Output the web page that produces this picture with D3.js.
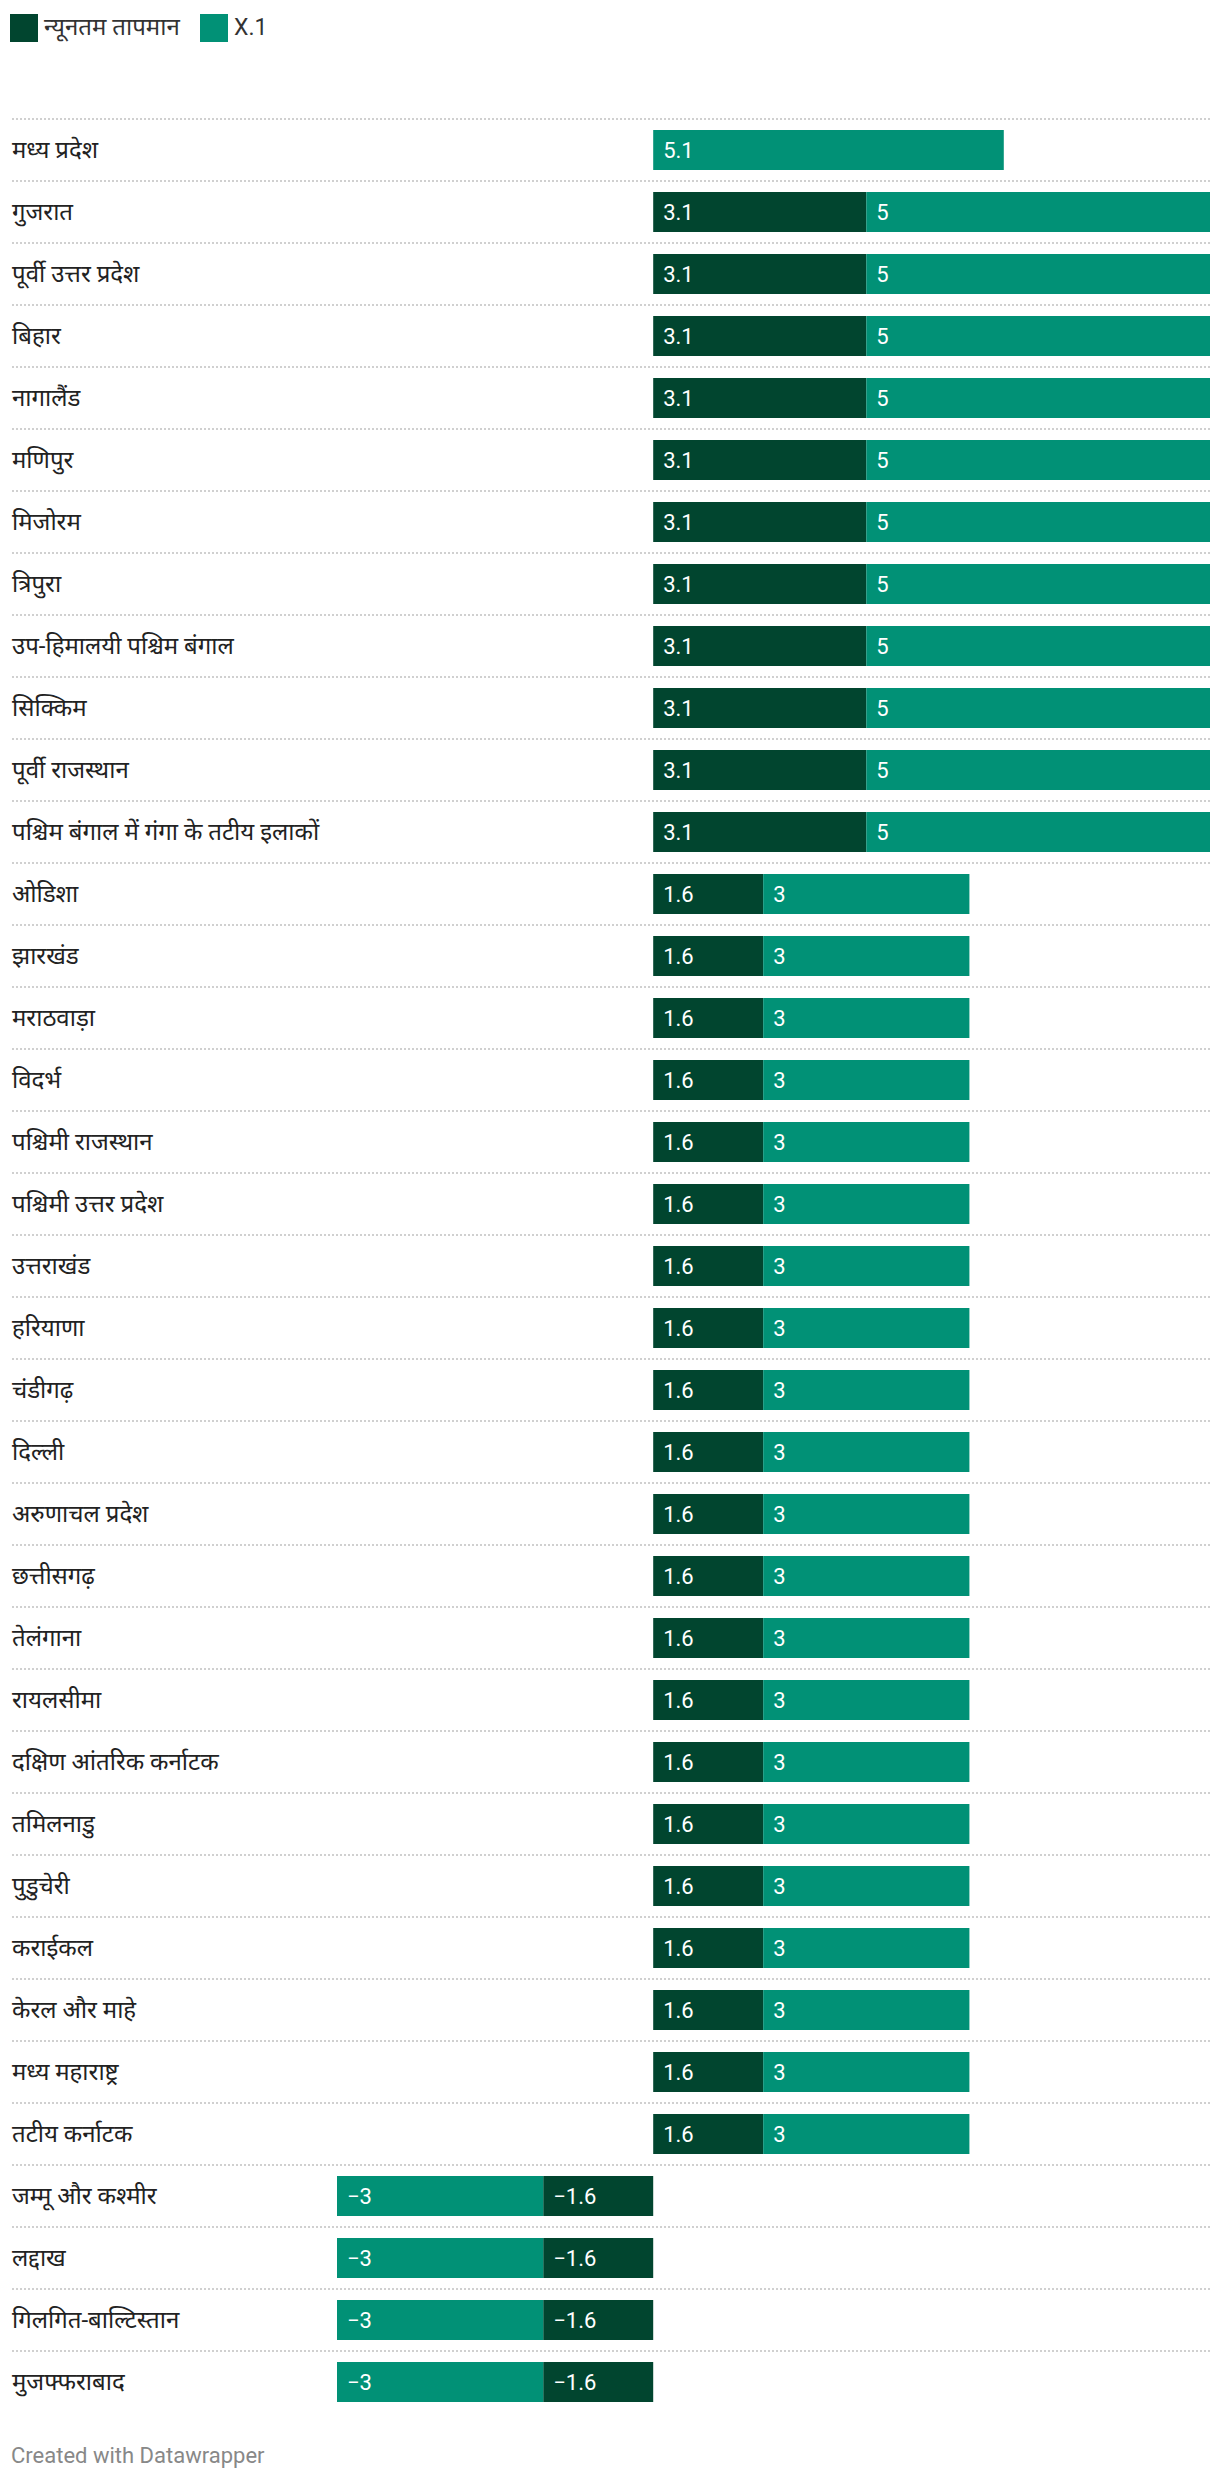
<!DOCTYPE html>
<html>
<head>
<meta charset="utf-8">
<script src="https://cdn.jsdelivr.net/npm/d3@7"></script>
<style>
  html, body { margin: 0; padding: 0; background: #fff; }
  svg text { font-family: Roboto, "Noto Sans Devanagari", "Noto Sans", sans-serif; }
</style>
</head>
<body>
<svg id="chart" width="1220" height="2480"></svg>
<script>
const categories = [
  "मध्य प्रदेश",
  "गुजरात",
  "पूर्वी उत्तर प्रदेश",
  "बिहार",
  "नागालैंड",
  "मणिपुर",
  "मिजोरम",
  "त्रिपुरा",
  "उप-हिमालयी पश्चिम बंगाल",
  "सिक्किम",
  "पूर्वी राजस्थान",
  "पश्चिम बंगाल में गंगा के तटीय इलाकों",
  "ओडिशा",
  "झारखंड",
  "मराठवाड़ा",
  "विदर्भ",
  "पश्चिमी राजस्थान",
  "पश्चिमी उत्तर प्रदेश",
  "उत्तराखंड",
  "हरियाणा",
  "चंडीगढ़",
  "दिल्ली",
  "अरुणाचल प्रदेश",
  "छत्तीसगढ़",
  "तेलंगाना",
  "रायलसीमा",
  "दक्षिण आंतरिक कर्नाटक",
  "तमिलनाडु",
  "पुडुचेरी",
  "कराईकल",
  "केरल और माहे",
  "मध्य महाराष्ट्र",
  "तटीय कर्नाटक",
  "जम्मू और कश्मीर",
  "लद्दाख",
  "गिलगित-बाल्टिस्तान",
  "मुजफ्फराबाद"
];
const seriesNames = ["न्यूनतम तापमान", "X.1"];
const minTemp = [
  null,
  3.1, 3.1, 3.1, 3.1, 3.1, 3.1, 3.1, 3.1, 3.1, 3.1, 3.1,
  1.6, 1.6, 1.6, 1.6, 1.6, 1.6, 1.6, 1.6, 1.6, 1.6, 1.6,
  1.6, 1.6, 1.6, 1.6, 1.6, 1.6, 1.6, 1.6, 1.6, 1.6,
  -1.6, -1.6, -1.6, -1.6
];
const x1 = [
  5.1,
  5, 5, 5, 5, 5, 5, 5, 5, 5, 5, 5,
  3, 3, 3, 3, 3, 3, 3, 3, 3, 3, 3,
  3, 3, 3, 3, 3, 3, 3, 3, 3, 3,
  -3, -3, -3, -3
];
const colors = ["#01452f", "#019176"];
const footerText = "Created with Datawrapper";

const table = categories.map((c, i) => ({
  cat: c,
  [seriesNames[0]]: minTemp[i] == null ? 0 : minTemp[i],
  [seriesNames[1]]: x1[i]
}));

const stacked = d3.stack()
  .keys(seriesNames)
  .offset(d3.stackOffsetDiverging)(table);

const lo = d3.min(stacked, s => d3.min(s, d => d[0]));
const hi = d3.max(stacked, s => d3.max(s, d => d[1]));

const x = d3.scaleLinear().domain([lo, hi]).range([337, 1210]);
const y = d3.scaleBand().domain(categories).range([119, 119 + 62 * categories.length]).padding(0);
const barOffset = 11, barH = 40;

const svg = d3.select("#chart");
const fmt = d3.format("~g");

// Legend
const legend = svg.append("g");
const legendX = [10, 200];
seriesNames.forEach((name, i) => {
  legend.append("rect")
    .attr("x", legendX[i]).attr("y", 14)
    .attr("width", 28).attr("height", 28)
    .attr("fill", colors[i]);
  legend.append("text")
    .attr("x", legendX[i] + 34).attr("y", 35)
    .attr("font-size", i === 0 ? 24 : 23)
    .attr("fill", "#333")
    .text(name);
});

// Row separators
svg.append("g").selectAll("line")
  .data(categories)
  .join("line")
  .attr("x1", 12).attr("x2", 1210)
  .attr("y1", d => y(d)).attr("y2", d => y(d))
  .attr("stroke", "#d0d0d0")
  .attr("stroke-width", 2)
  .attr("stroke-dasharray", "2,2");

// Row labels
svg.append("g").selectAll("text")
  .data(categories)
  .join("text")
  .attr("x", 12)
  .attr("y", d => y(d) + barOffset + barH / 2)
  .attr("dy", "0.33em")
  .attr("font-size", 24)
  .attr("fill", "#222")
  .text(d => d);

// Bars
stacked.forEach((s, si) => {
  const g = svg.append("g");
  const segs = s.filter(d => d[1] !== d[0]);
  g.selectAll("rect")
    .data(segs)
    .join("rect")
    .attr("x", d => x(Math.min(d[0], d[1])))
    .attr("width", d => Math.abs(x(d[1]) - x(d[0])))
    .attr("y", d => y(d.data.cat) + barOffset)
    .attr("height", barH)
    .attr("fill", colors[si]);
  g.selectAll("text")
    .data(segs)
    .join("text")
    .attr("x", d => x(Math.min(d[0], d[1])) + 10)
    .attr("y", d => y(d.data.cat) + barOffset + barH / 2)
    .attr("dy", "0.36em")
    .attr("font-size", 22)
    .attr("fill", "#fff")
    .text(d => fmt(d.data[seriesNames[si]]));
});

// Footer
svg.append("text")
  .attr("x", 11).attr("y", 2463)
  .attr("font-size", 22)
  .attr("fill", "#888")
  .text(footerText);
</script>
</body>
</html>
